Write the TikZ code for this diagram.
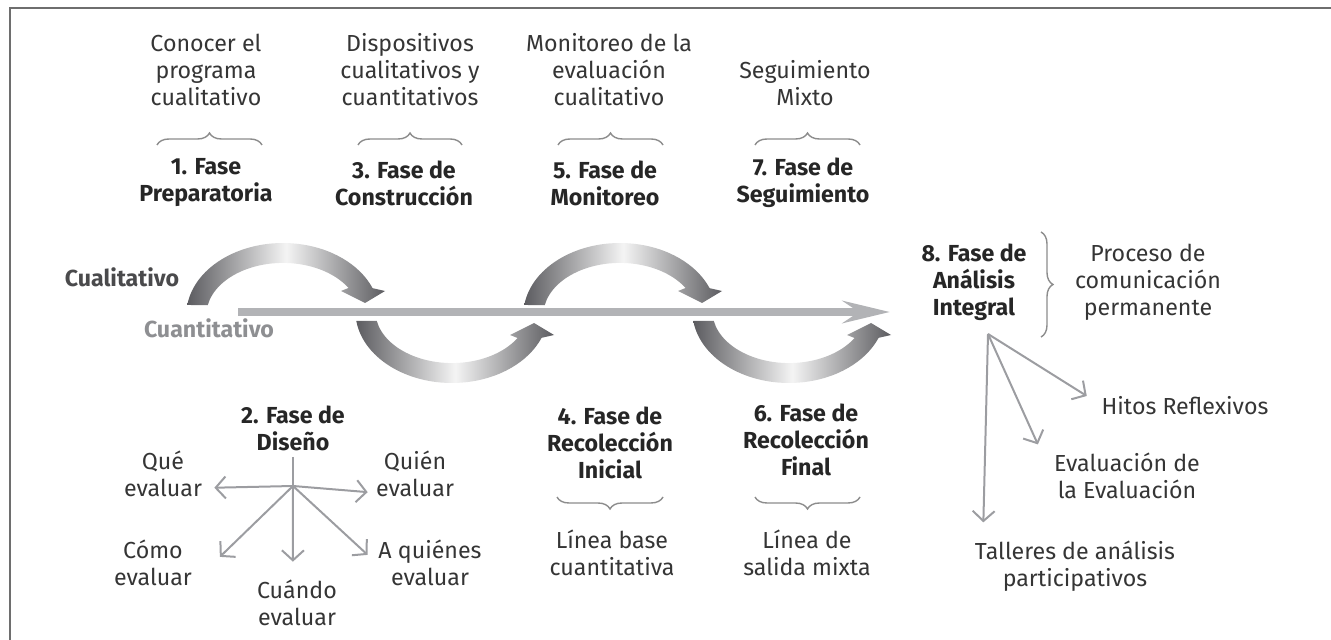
\documentclass[tikz,border=0pt]{standalone}
\usepackage{fontspec}
\setmainfont{Fira Sans}
\usetikzlibrary{arrows.meta,decorations.pathreplacing}
\definecolor{textgray}{HTML}{353535}
\definecolor{boldgray}{HTML}{262626}
\definecolor{cualigray}{HTML}{4A4A4C}
\definecolor{cuantigray}{HTML}{8E8F92}
\definecolor{linegray}{HTML}{9C9DA1}
\definecolor{maingray}{HTML}{B2B3B6}
\definecolor{arcdark}{HTML}{5C5C60}
\definecolor{arclight}{HTML}{F4F4F4}
\definecolor{bracegray}{HTML}{8C8C8C}
\definecolor{framegray}{HTML}{6E6E6E}
\newcommand{\figfont}{\fontsize{11.6}{13.5}\selectfont}

\begin{document}
\begin{tikzpicture}[x=0.5pt, y=-0.5pt,
    desc/.style={align=center, inner sep=3pt, text=textgray, font=\figfont},
    phase/.style={align=center, inner sep=3pt, text=boldgray, font=\figfont\bfseries},
    conn/.style={draw=linegray, line width=1pt,
        -{Straight Barb[length=5pt,width=11pt]}},
    bracestyle/.style={draw=bracegray, line width=0.7pt, decorate,
        decoration={brace, amplitude=6pt}},
    loop arc/.pic={
        \shade[left color=arcdark, right color=arcdark, middle color=arclight]
            (-95.7,-10) arc[start angle=-172, end angle=-21.9, x radius=96.6, y radius=72]
            -- (102,-24) -- (82,-12) -- (58,-24) -- (65.5,-27)
            arc[start angle=-31.2, end angle=-169, x radius=76.6, y radius=52] -- cycle;
    }
]
    \useasboundingbox (0,0) rectangle (1331,640);
    \draw[framegray, line width=0.8pt] (10,640) -- (10,8) -- (1331,8);

    % Top row
    \node [desc] (Desc1) at (206,70) {Conocer el\\programa\\cualitativo};
    \node [desc] (Desc3) at (410,70) {Dispositivos\\cualitativos y\\cuantitativos};
    \node [desc] (Desc5) at (609,70) {Monitoreo de la\\evaluación\\cualitativo};
    \node [desc] (Desc7) at (805,83) {Seguimiento\\Mixto};
    \node [phase] (Phase1) at (206,183) {1. Fase\\Preparatoria};
    \node [phase] (Phase3) at (404,183) {3. Fase de\\Construcción};
    \node [phase] (Phase5) at (605,183) {5. Fase de\\Monitoreo};
    \node [phase] (Phase7) at (803,183) {7. Fase de\\Seguimiento};
    \draw[bracestyle] (157,145) -- (262,145);
    \draw[bracestyle] (358,145) -- (462,145);
    \draw[bracestyle] (558,145) -- (663,145);
    \draw[bracestyle] (755,145) -- (860,145);

    % Loops
    \pic at (283,315) {loop arc};
    \pic at (620,315) {loop arc};
    \pic[yscale=-1] at (452,311) {loop arc};
    \pic[yscale=-1] at (789,311) {loop arc};
    \coordinate (QuantStart) at (238,312);
    \coordinate (QuantEnd) at (890,312);
    \draw[maingray, line width=4pt,
        -{Stealth[length=23.5pt,width=11pt,inset=8pt]}] (QuantStart) -- (QuantEnd);
    \node [phase, text=cualigray] (Cuali) at (122,277) {Cualitativo};
    \node [phase, text=cuantigray] (Cuanti) at (209,328) {Cuantitativo};

    % Bottom row
    \node [phase] (Phase2) at (293,428) {2. Fase de\\Diseño};
    \node [phase] (Phase4) at (610,443) {4. Fase de\\Recolección\\Inicial};
    \node [phase] (Phase6) at (806,440) {6. Fase de\\Recolección\\Final};
    \node [desc] (Desc4) at (612,553) {Línea base\\cuantitativa};
    \node [desc] (Desc6) at (807,553) {Línea de\\salida mixta};
    \draw[bracestyle] (663,497) -- (557,497);
    \draw[bracestyle] (860,497) -- (755,497);

    % Design
    \node [desc] (Que) at (163,474) {Qué\\evaluar};
    \node [desc] (Quien) at (415,474) {Quién\\evaluar};
    \node [desc] (Como) at (153,563) {Cómo\\evaluar};
    \node [desc] (Cuando) at (297,603) {Cuándo\\evaluar};
    \node [desc] (AQuienes) at (430,563) {A quiénes\\evaluar};
    \coordinate (HubDiseno) at (293,486);
    \draw[linegray, line width=1pt] (Phase2.south) -- (HubDiseno);
    \draw[conn, shorten >=3pt] (HubDiseno) -- (Que.-17);
    \draw[conn, shorten >=1pt] (HubDiseno) -- (Quien.202);
    \draw[conn, shorten >=15pt] (HubDiseno) -- (Como.-18);
    \draw[conn, shorten >=6pt] (HubDiseno) -- (Cuando.98);
    \draw[conn, shorten >=3pt] (HubDiseno) -- (AQuienes.176);

    % Analysis
    \node [phase] (Phase8) at (974,282) {8. Fase de\\Análisis\\Integral};
    \node [desc] (Desc8) at (1148,282) {Proceso de\\comunicación\\permanente};
    \draw[bracestyle] (1041,232) -- (1041,337);
    \node [desc] (Hitos) at (1185,406) {Hitos Reflexivos};
    \node [desc] (EvalEval) at (1127,476) {Evaluación de\\la Evaluación};
    \node [desc] (Talleres) at (1075,566) {Talleres de análisis\\participativos};
    \coordinate (HubAnalisis) at (988,334);
    \draw[conn, shorten >=6pt] (HubAnalisis) -- (Talleres.161);
    \draw[conn, shorten >=12pt] (HubAnalisis) -- (EvalEval.173);
    \draw[conn, shorten >=5pt] (HubAnalisis) -- (Hitos.177);
\end{tikzpicture}
\end{document}
